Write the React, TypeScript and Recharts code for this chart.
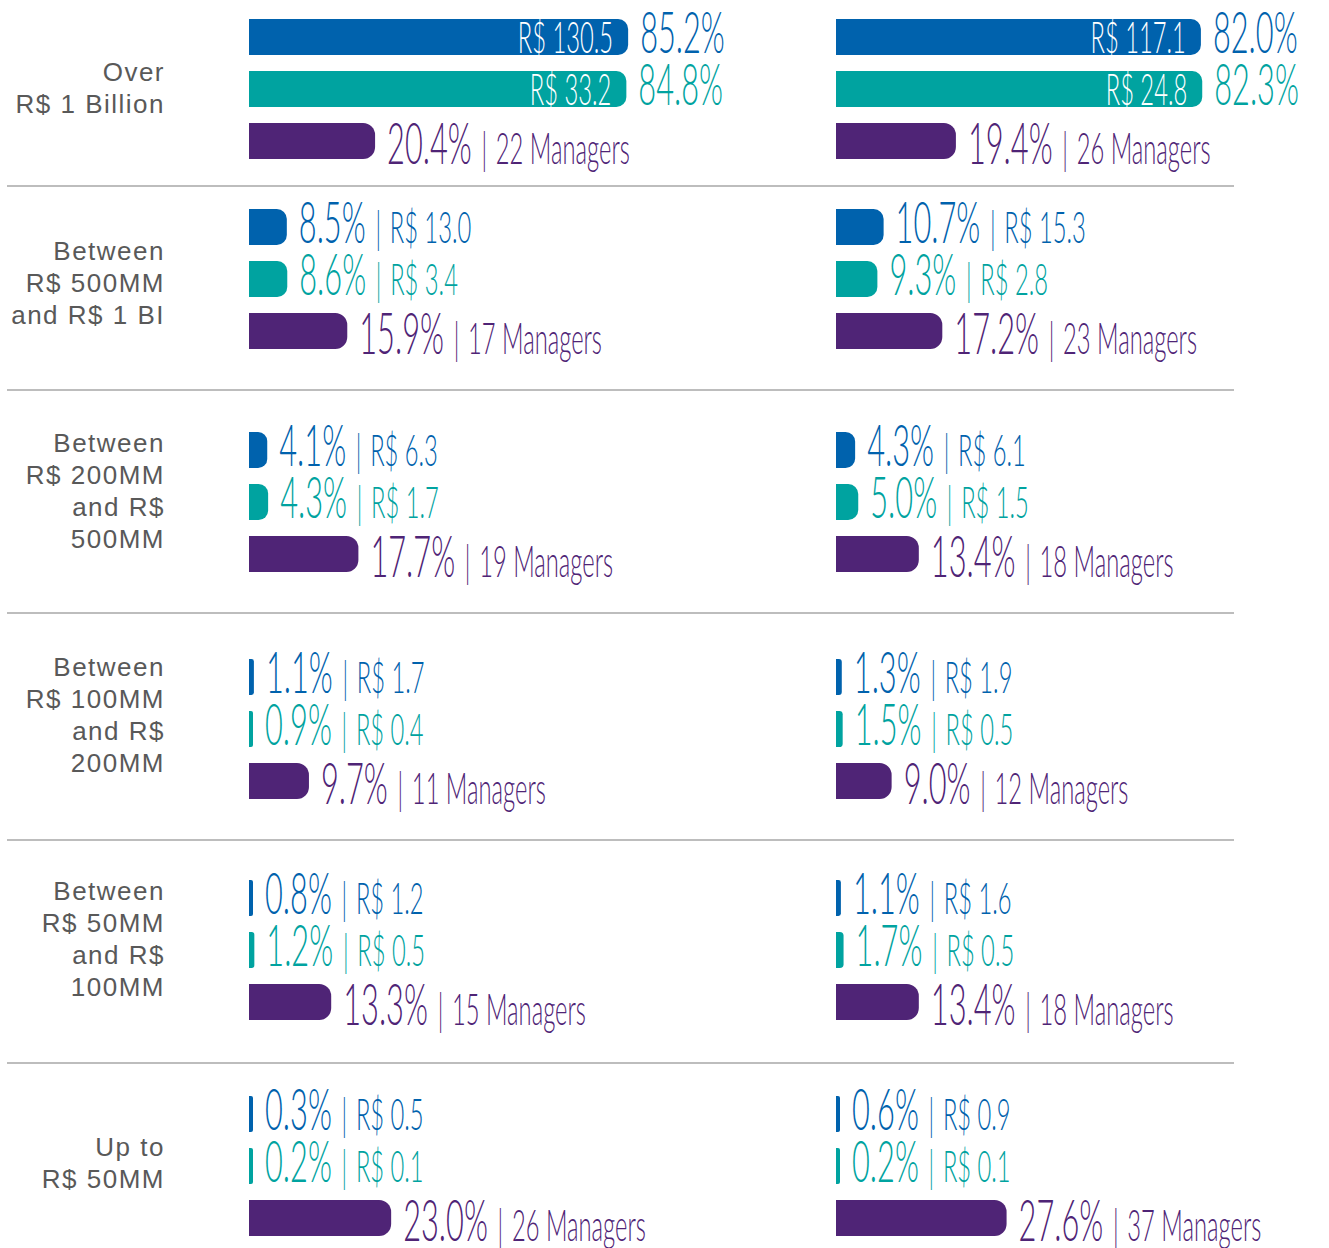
import { BarChart, Bar, XAxis, YAxis, Cell, LabelList } from "recharts";

const BLUE = "#0062ad";
const TEAL = "#00a3a0";
const PURPLE = "#4f2476";

const bandLabels = [
  ["Over", "R$ 1 Billion"],
  ["Between", "R$ 500MM", "and R$ 1 BI"],
  ["Between", "R$ 200MM", "and R$", "500MM"],
  ["Between", "R$ 100MM", "and R$", "200MM"],
  ["Between", "R$ 50MM", "and R$", "100MM"],
  ["Up to", "R$ 50MM"],
];

// left panel
const assetShareL = [85.2, 8.5, 4.1, 1.1, 0.8, 0.3];
const assetValueL = [130.5, 13.0, 6.3, 1.7, 1.2, 0.5];
const fundShareL = [84.8, 8.6, 4.3, 0.9, 1.2, 0.2];
const fundValueL = [33.2, 3.4, 1.7, 0.4, 0.5, 0.1];
const managerShareL = [20.4, 15.9, 17.7, 9.7, 13.3, 23.0];
const managerCountL = [22, 17, 19, 11, 15, 26];

// right panel
const assetShareR = [82.0, 10.7, 4.3, 1.3, 1.1, 0.6];
const assetValueR = [117.1, 15.3, 6.1, 1.9, 1.6, 0.9];
const fundShareR = [82.3, 9.3, 5.0, 1.5, 1.7, 0.2];
const fundValueR = [24.8, 2.8, 1.5, 0.5, 0.5, 0.1];
const managerShareR = [19.4, 17.2, 13.4, 9.0, 13.4, 27.6];
const managerCountR = [26, 23, 18, 12, 18, 37];

// layout
const rowLines = [186, 390, 613, 840, 1063];
const chartTops = [11, 201, 424, 651, 872, 1088];
const labelTops = [56, 235, 427, 651, 875, 1131];
const PAD = 24;

type Panel = {
  assetShare: number[];
  assetValue: number[];
  fundShare: number[];
  fundValue: number[];
  managerShare: number[];
  managerCount: number[];
};

const panels: Panel[] = [
  {
    assetShare: assetShareL,
    assetValue: assetValueL,
    fundShare: fundShareL,
    fundValue: fundValueL,
    managerShare: managerShareL,
    managerCount: managerCountL,
  },
  {
    assetShare: assetShareR,
    assetValue: assetValueR,
    fundShare: fundShareR,
    fundValue: fundValueR,
    managerShare: managerShareR,
    managerCount: managerCountR,
  },
];

const panelLeft = [249, 836];
const panelWidth = [575, 493];

type Row = {
  key: string;
  share?: number | null;
  amount?: number | null;
  managers?: number | null;
  count?: number | null;
  color: string;
};

function buildRows(p: Panel, i: number): Row[] {
  return [
    { key: "assets", share: p.assetShare[i], amount: p.assetValue[i], managers: null, color: BLUE },
    { key: "funds", share: p.fundShare[i], amount: p.fundValue[i], managers: null, color: TEAL },
    { key: "managers", share: null, managers: p.managerShare[i], count: p.managerCount[i], color: PURPLE },
  ];
}

const FONT = "Lato, 'Open Sans', sans-serif";
const SQUEEZE = 0.54;

// pick = fixed row for a series drawn on one category only
const makeLabel = (rows: Row[], pick?: number) => (props: any) => {
  const vb = props.viewBox || props;
  const x = Number(vb.x);
  const y = Number(vb.y);
  const w = Number(vb.width);
  const h = Number(vb.height);
  const row = rows[pick ?? props.index];
  if (!row) return null;
  const isMgr = row.key === "managers";
  const pct = isMgr ? row.managers : row.share;
  if (pct == null || !w) return null;
  const inside = !isMgr && (row.share as number) > 50;
  const right = x + w;
  const base = isMgr ? y + h + 5 : y + h - 2;
  const extra = isMgr
    ? `${row.count} Managers`
    : `R$ ${(row.amount as number).toFixed(1)}`;
  return (
    <g>
      {inside && (
        <text
          transform={`translate(${right - 15},${base}) scale(${SQUEEZE},1)`}
          textAnchor="end"
          fill="#fff"
          fontFamily={FONT}
          fontWeight={300}
          fontSize={44}
        >
          {extra}
        </text>
      )}
      <text
        transform={`translate(${right + 12},${base}) scale(${SQUEEZE},1)`}
        fill={row.color}
        fontFamily={FONT}
        fontWeight={300}
      >
        <tspan fontSize={57}>{`${pct.toFixed(1)}%`}</tspan>
        {!inside && (
          <>
            <tspan fontSize={44} dx={18}>|</tspan>
            <tspan fontSize={44} dx={16}>{extra}</tspan>
          </>
        )}
      </text>
    </g>
  );
};

function BandChart({ panel, index, width }: { panel: Panel; index: number; width: number }) {
  const rows = buildRows(panel, index);
  const minSize = (v: any) => (Number(v) > 0 ? 4 : 0);
  return (
    <BarChart
      layout="vertical"
      width={width}
      height={156 + PAD * 2}
      data={rows}
      margin={{ top: PAD, right: width - 445, bottom: PAD, left: 0 }}
      barCategoryGap={16}
    >
      <XAxis xAxisId="a" type="number" domain={[0, 100]} hide />
      <XAxis xAxisId="m" type="number" domain={[0, 72]} hide />
      <YAxis type="category" dataKey="key" hide />
      <Bar
        xAxisId="a"
        dataKey="share"
        stackId="s"
        barSize={36}
        radius={[0, 10, 10, 0]}
        minPointSize={minSize}
        isAnimationActive={false}
      >
        {rows.map((r) => (
          <Cell key={r.key} fill={r.color} />
        ))}
        <LabelList dataKey="share" content={makeLabel(rows)} />
      </Bar>
      <Bar
        xAxisId="m"
        dataKey="managers"
        stackId="s"
        barSize={36}
        radius={[0, 12, 12, 0]}
        fill={PURPLE}
        minPointSize={minSize}
        isAnimationActive={false}
      >
        <LabelList dataKey="managers" content={makeLabel(rows, 2)} />
      </Bar>
    </BarChart>
  );
}

export default function App() {
  return (
    <div
      style={{
        position: "absolute",
        left: 0,
        top: 0,
        width: 1329,
        height: 1248,
        background: "#fff",
        overflow: "hidden",
      }}
    >
      {rowLines.map((y) => (
        <div
          key={y}
          style={{
            position: "absolute",
            left: 7,
            top: y - 1,
            width: 1227,
            height: 2,
            background: "#bdbdbd",
          }}
        />
      ))}
      {bandLabels.map((lines, i) => (
        <div
          key={i}
          style={{
            position: "absolute",
            left: 0,
            top: labelTops[i],
            width: 165,
            textAlign: "right",
            fontFamily: "'Liberation Sans', Arial, sans-serif",
            fontSize: 26,
            lineHeight: "32px",
            letterSpacing: 1.5,
            color: "#595959",
          }}
        >
          {lines.map((l) => (
            <div key={l}>{l}</div>
          ))}
        </div>
      ))}
      {chartTops.map((top, i) =>
        panels.map((p, j) => (
          <div
            key={`${i}-${j}`}
            style={{ position: "absolute", left: panelLeft[j], top: top - PAD }}
          >
            <BandChart panel={p} index={i} width={panelWidth[j]} />
          </div>
        ))
      )}
    </div>
  );
}
